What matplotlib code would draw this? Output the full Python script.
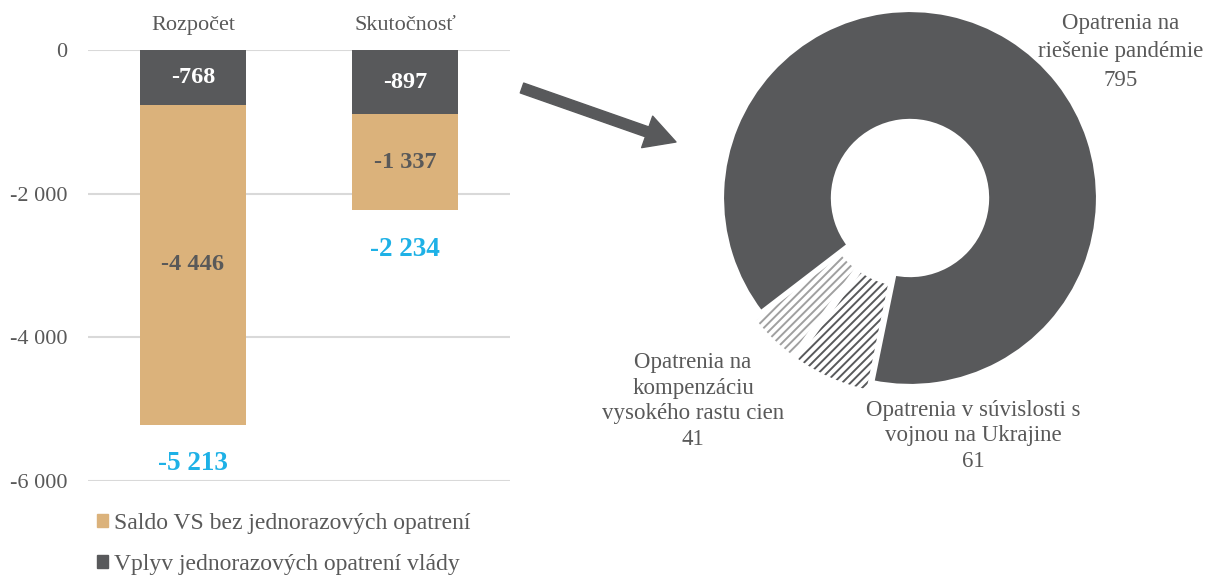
import matplotlib
matplotlib.use("Agg")
import matplotlib.pyplot as plt
from matplotlib.patches import FancyArrowPatch, Patch

plt.rcParams['font.family'] = ['Liberation Serif', 'DejaVu Serif']
plt.rcParams['hatch.linewidth'] = 1.4

# --- data ---
categories = ['Rozpočet', 'Skutočnosť']
one_off = [-768, -897]            # Vplyv jednorazových opatrení vlády
saldo_wo = [-4446, -1337]         # Saldo VS bez jednorazových opatrení
totals = [-5213, -2234]
series_names = ['Saldo VS bez jednorazových opatrení', 'Vplyv jednorazových opatrení vlády']
yticks = [0, -2000, -4000, -6000]

pie_labels = ['Opatrenia na\nriešenie pandémie\n795',
              'Opatrenia v súvislosti s\nvojnou na Ukrajine\n61',
              'Opatrenia na\nkompenzáciu\nvysokého rastu cien\n41']
pie_values = [795, 61, 41]

DARK = '#58595b'
TAN = '#dbb27b'
BLUE = '#1eb1e6'
TXT = '#595959'


def fmt(v):
    return f"{v:,}".replace(',', ' ')


W, H = 1206, 577
fig = plt.figure(figsize=(W / 100, H / 100), dpi=100)

# --- stacked bars ---
ax = fig.add_axes([88 / W, 1 - 481 / H, (510 - 88) / W, (481 - 50) / H])
x = [0, 1]
b1 = ax.bar(x, one_off, width=0.5, color=DARK, zorder=3)
b2 = ax.bar(x, saldo_wo, width=0.5, bottom=one_off, color=TAN, zorder=3)
ax.bar_label(b1, labels=[fmt(v) for v in one_off], label_type='center',
             color='white', fontsize=17.5, fontweight='bold')
ax.bar_label(b2, labels=[fmt(v) for v in saldo_wo], label_type='center',
             color=TXT, fontsize=17.5, fontweight='bold')
for xi, t in zip(x, totals):
    ax.annotate(fmt(t), (xi, t), xytext=(0, -28), textcoords='offset points',
                ha='center', va='center', color=BLUE, fontsize=19.5, fontweight='bold')

ax.set_xlim(-0.495, 1.495)
ax.set_ylim(-6000, 0)
ax.set_yticks(yticks)
ax.set_yticklabels([fmt(v) for v in yticks], fontsize=16, color=TXT)
ax.tick_params(axis='y', length=0, pad=15)
ax.xaxis.tick_top()
ax.set_xticks(x)
ax.set_xticklabels(categories, fontsize=16, color=TXT)
ax.tick_params(axis='x', length=0, pad=11)
ax.yaxis.grid(True, color='#d9d9d9', linewidth=1.5, zorder=0)
ax.set_axisbelow(True)
for s in ax.spines.values():
    s.set_visible(False)

handles = [Patch(color=TAN), Patch(color=DARK)]
fig.legend(handles, series_names, loc='center left', bbox_to_anchor=(97 / W, 1 - 544 / H),
           frameon=False, fontsize=17, labelcolor=TXT, handlelength=0.45, handleheight=0.45,
           handletextpad=0.25, labelspacing=0.85, borderaxespad=0, borderpad=0)

# --- arrow ---
arrow = FancyArrowPatch((522 / W, 1 - 88 / H), (676 / W, 1 - 142 / H),
                        transform=fig.transFigure,
                        arrowstyle='simple,tail_width=0.75,head_width=2.4,head_length=2.2',
                        mutation_scale=10, color=DARK, shrinkA=0, shrinkB=0)
fig.add_artist(arrow)

# --- donut ---
cx, cy, half, rad = 910, 198, 210, 188
pax = fig.add_axes([(cx - half) / W, 1 - (cy + half) / H, 2 * half / W, 2 * half / H])
explode = [0, 0.055, 0.055]
start = 217.5
ring = 0.59
wedges, _ = pax.pie(pie_values, radius=1, startangle=start, counterclock=False,
                    explode=explode, wedgeprops=dict(width=ring, linewidth=0))
wedges[0].set_facecolor(DARK)
hatch_cols = ['#58595b', '#a0a0a0']
for w, hc in zip(wedges[1:], hatch_cols):
    w.set_facecolor('white')
    w.set_edgecolor(hc)
    w.set_hatch('////')
# white gaps between slices
pax.pie(pie_values, radius=1, startangle=start, counterclock=False, explode=explode,
        wedgeprops=dict(width=ring, linewidth=3, edgecolor='white', facecolor='none'))
lim = half / rad
pax.set_xlim(-lim, lim)
pax.set_ylim(-lim, lim)
pax.set_aspect('equal')
pax.axis('off')

fig.text(1121 / W, 1 - 52 / H, pie_labels[0], ha='center', va='center', fontsize=16.5,
         color=TXT, linespacing=1.45)
fig.text(973 / W, 1 - 436 / H, pie_labels[1], ha='center', va='center', fontsize=16.5,
         color=TXT, linespacing=1.3)
fig.text(693 / W, 1 - 401 / H, pie_labels[2], ha='center', va='center', fontsize=16.5,
         color=TXT, linespacing=1.3)

fig.savefig('out.png', dpi=100)
